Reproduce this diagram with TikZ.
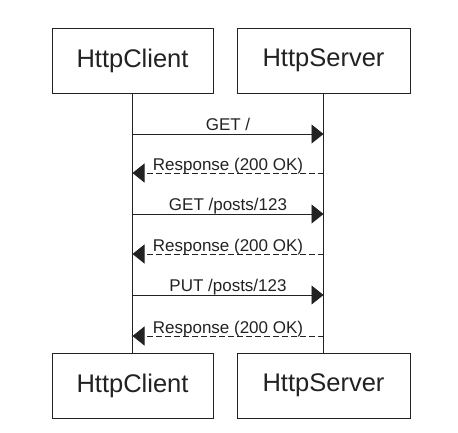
\documentclass[tikz,border=0pt]{standalone}
\usepackage{fontspec}
\setmainfont{Liberation Sans}
\usetikzlibrary{arrows.meta}
\definecolor{ink}{HTML}{222222}
\begin{document}
\begin{tikzpicture}[x=1pt,y=-1pt,
  actor/.style={draw=ink,line width=0.9pt,fill=white,minimum height=65pt,inner sep=0pt,
    font=\fontsize{25.5}{30}\selectfont,text=ink},
  life/.style={draw=ink,line width=0.9pt},
  msg/.style={draw=ink,line width=0.9pt,-{Triangle[length=12pt,width=19pt]}},
  reply/.style={msg,dash pattern=on 6pt off 3pt},
  lbl/.style={font=\fontsize{17}{20}\selectfont,text=ink,anchor=base,inner sep=0pt}]
\useasboundingbox (0,0) rectangle (458,432);
% actors
\node[actor,minimum width=161pt] (ct) at (132.5,60.5) {HttpClient};
\node[actor,minimum width=173pt] (st) at (323.5,60.5) {HttpServer};
\node[actor,minimum width=161pt] (cb) at (132.5,385.5) {HttpClient};
\node[actor,minimum width=173pt] (sb) at (323.5,385.5) {HttpServer};
% lifelines
\draw[life] (ct.south) -- (cb.north);
\draw[life] (st.south) -- (sb.north);
% message points
\foreach \n/\y in {1/134,2/173,3/214,4/254,5/295,6/336}{
  \coordinate (c\n) at (132.5,\y);
  \coordinate (s\n) at (323.5,\y);
}
\draw[msg] (c1) -- node[lbl,yshift=4pt] (l1) {GET /} (s1);
\draw[reply] (s2) -- node[lbl,yshift=2.5pt] (l2) {Response (200 OK)} (c2);
\draw[msg] (c3) -- node[lbl,yshift=4pt] (l3) {GET /posts/123} (s3);
\draw[reply] (s4) -- node[lbl,yshift=2.5pt] (l4) {Response (200 OK)} (c4);
\draw[msg] (c5) -- node[lbl,yshift=4pt] (l5) {PUT /posts/123} (s5);
\draw[reply] (s6) -- node[lbl,yshift=2.5pt] (l6) {Response (200 OK)} (c6);
\end{tikzpicture}
\end{document}
